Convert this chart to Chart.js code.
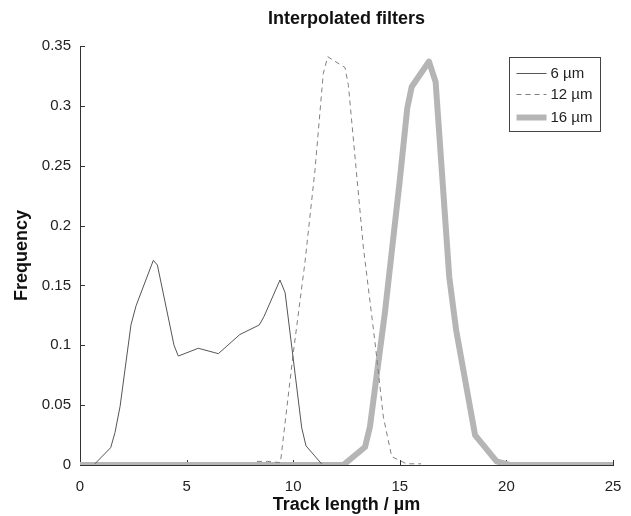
<!DOCTYPE html>
<html lang="en">
<head>
    <meta charset="UTF-8">
    <title>Interpolated filters</title>
    <script src="https://cdn.jsdelivr.net/npm/chart.js@4"></script>
    <style>
        html, body { margin: 0; padding: 0; background: #fff; }
        #chart { display: block; }
    </style>
</head>
<body>
    <canvas id="chart" width="631" height="516"></canvas>
    <script>
        // values
        const x6 = [0.70, 1.44, 1.64, 1.88, 2.39, 2.63, 3.44, 3.63, 4.41, 4.61, 5.55, 6.49, 7.50, 8.41, 8.63, 9.38, 9.62, 10.40, 10.60, 11.33];
        const y6 = [0.001, 0.0145, 0.027, 0.049, 0.117, 0.133, 0.171, 0.167, 0.100, 0.091, 0.0975, 0.093, 0.109, 0.117, 0.124, 0.1545, 0.144, 0.031, 0.016, 0.001];

        const x12 = [8.30, 8.80, 9.40, 10.00, 10.55, 11.02, 11.41, 11.62, 12.43, 12.59, 13.29, 13.84, 14.23, 14.62, 15.32, 16.00];
        const y12 = [0.003, 0.003, 0.002, 0.093, 0.169, 0.246, 0.327, 0.341, 0.332, 0.317, 0.182, 0.102, 0.040, 0.007, 0.001, 0.001];

        const x16 = [0, 12.35, 13.37, 13.60, 14.30, 15.00, 15.35, 15.56, 16.37, 16.68, 17.32, 17.64, 18.53, 19.54, 20.17, 25];
        const y16 = [0, 0, 0.015, 0.032, 0.127, 0.238, 0.298, 0.316, 0.337, 0.320, 0.157, 0.113, 0.025, 0.003, 0, 0];

        const seriesLabels = ['6 µm', '12 µm', '16 µm'];
        const xTicks = [0, 5, 10, 15, 20, 25];
        const yTicks = [0, 0.05, 0.1, 0.15, 0.2, 0.25, 0.3, 0.35];

        const FONT = '"Liberation Sans", Arial, sans-serif';
        const pts = (xs, ys) => xs.map((x, i) => ({ x: x, y: ys[i] }));

        // inward tick marks, drawn under the lines
        const innerTicks = {
            id: 'innerTicks',
            beforeDatasetsDraw(chart) {
                const { ctx, chartArea, scales } = chart;
                ctx.save();
                ctx.strokeStyle = '#333';
                ctx.lineWidth = 1;
                ctx.beginPath();
                xTicks.forEach(v => {
                    const px = Math.round(scales.x.getPixelForValue(v)) + 0.5;
                    ctx.moveTo(px, chartArea.bottom);
                    ctx.lineTo(px, chartArea.bottom - 5);
                });
                yTicks.forEach(v => {
                    const py = Math.round(scales.y.getPixelForValue(v)) + 0.5;
                    ctx.moveTo(chartArea.left, py);
                    ctx.lineTo(chartArea.left + 5, py);
                });
                ctx.stroke();
                ctx.restore();
            }
        };

        // title and boxed legend
        const decorations = {
            id: 'decorations',
            afterDraw(chart) {
                const { ctx, chartArea } = chart;
                ctx.save();
                ctx.fillStyle = '#111';
                ctx.font = 'bold 18px ' + FONT;
                ctx.textAlign = 'center';
                ctx.textBaseline = 'middle';
                ctx.fillText('Interpolated filters', (chartArea.left + chartArea.right) / 2, 19);

                const bx = chartArea.right - 103.5, by = chartArea.top + 11.5, bw = 91, bh = 74;
                ctx.fillStyle = '#fff';
                ctx.fillRect(bx, by, bw, bh);
                ctx.strokeStyle = '#444';
                ctx.lineWidth = 1;
                ctx.strokeRect(bx, by, bw, bh);

                const rows = [by + 16, by + 37, by + 60];
                chart.data.datasets.forEach((ds, i) => {
                    const y = rows[i];
                    ctx.beginPath();
                    ctx.strokeStyle = ds.borderColor;
                    ctx.lineWidth = ds.borderWidth;
                    ctx.setLineDash(ds.borderDash || []);
                    ctx.moveTo(bx + 7, y);
                    ctx.lineTo(bx + 37, y);
                    ctx.stroke();
                    ctx.setLineDash([]);
                    ctx.fillStyle = '#222';
                    ctx.font = '15px ' + FONT;
                    ctx.textAlign = 'left';
                    ctx.textBaseline = 'middle';
                    ctx.fillText(ds.label, bx + 41, y);
                });
                ctx.restore();
            }
        };

        new Chart(document.getElementById('chart'), {
            type: 'line',
            data: {
                datasets: [
                    {
                        label: seriesLabels[0],
                        data: pts(x6, y6),
                        borderColor: '#555',
                        borderWidth: 1,
                        order: 1
                    },
                    {
                        label: seriesLabels[1],
                        data: pts(x12, y12),
                        borderColor: '#808080',
                        borderWidth: 1,
                        borderDash: [5, 4],
                        order: 2
                    },
                    {
                        label: seriesLabels[2],
                        data: pts(x16, y16),
                        borderColor: '#b5b5b5',
                        borderWidth: 6,
                        borderJoinStyle: 'round',
                        order: 3
                    }
                ]
            },
            options: {
                responsive: false,
                animation: false,
                events: [],
                elements: { point: { radius: 0 }, line: { tension: 0, fill: false } },
                layout: { padding: { top: 46, right: 18, left: 0, bottom: 0 } },
                plugins: {
                    legend: { display: false },
                    tooltip: { enabled: false },
                    title: { display: false }
                },
                scales: {
                    x: {
                        type: 'linear',
                        min: 0,
                        max: 25,
                        afterBuildTicks: s => { s.ticks = xTicks.map(v => ({ value: v })); },
                        afterFit: s => { s.height = 51; s.paddingLeft = 0; s.paddingRight = 0; },
                        ticks: {
                            color: '#222',
                            font: { family: FONT, size: 15 },
                            padding: 13,
                            maxRotation: 0
                        },
                        grid: { display: false, drawTicks: false },
                        border: { display: true, color: '#333', width: 1 },
                        title: {
                            display: true,
                            text: 'Track length / µm',
                            color: '#111',
                            font: { family: FONT, size: 18, weight: 'bold' },
                            padding: { top: 0, bottom: 0 }
                        }
                    },
                    y: {
                        type: 'linear',
                        min: 0,
                        max: 0.35,
                        afterBuildTicks: s => { s.ticks = yTicks.map(v => ({ value: v })); },
                        afterFit: s => { s.width = 80; },
                        ticks: {
                            color: '#222',
                            font: { family: FONT, size: 15 },
                            padding: 9,
                            callback: v => String(Math.round(v * 100) / 100)
                        },
                        grid: { display: false, drawTicks: false },
                        border: { display: true, color: '#333', width: 1 },
                        title: {
                            display: true,
                            text: 'Frequency',
                            color: '#111',
                            font: { family: FONT, size: 18, weight: 'bold' },
                            padding: { top: 11, bottom: 0 }
                        }
                    }
                }
            },
            plugins: [innerTicks, decorations]
        });
    </script>
</body>
</html>
